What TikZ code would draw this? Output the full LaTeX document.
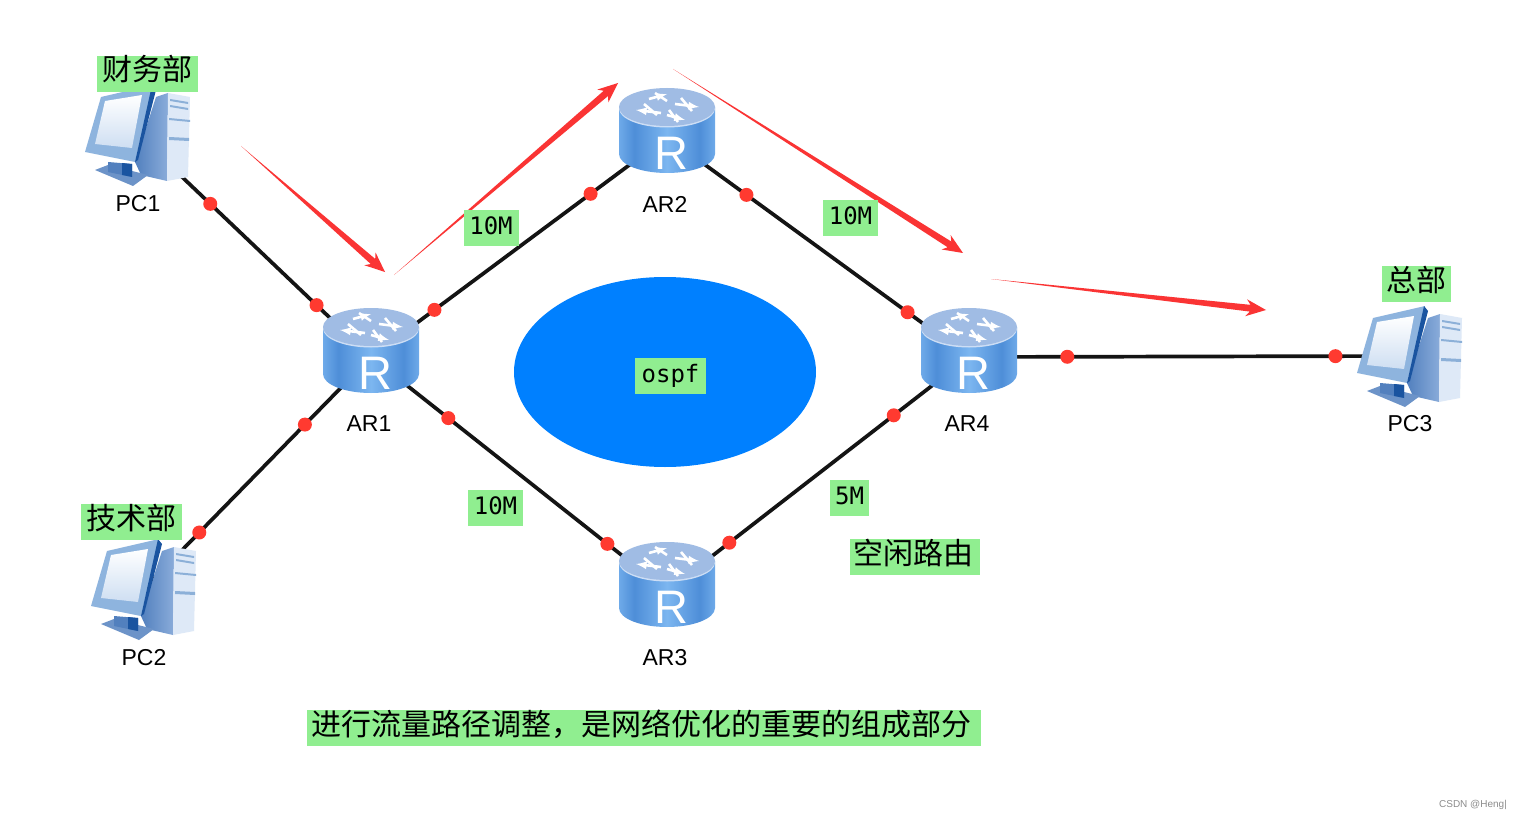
\documentclass[tikz,border=0pt]{standalone}
\usepackage{fontspec}
\usepackage{xcolor}
\usetikzlibrary{arrows, calc, positioning, shapes.geometric}
\setmainfont{Liberation Sans}
\setmonofont{DejaVu Sans Mono}
\newfontfamily\cjk{Noto Sans CJK SC}
\definecolor{labelgreen}{RGB}{144, 238, 144}
\definecolor{ospfblue}{RGB}{0, 128, 255}
\definecolor{arrowred}{RGB}{250, 52, 52}
\definecolor{dotred}{RGB}{255, 58, 48}
\definecolor{routertop}{RGB}{160, 188, 228}
\definecolor{routerrim}{RGB}{205, 222, 245}
\definecolor{routerlight}{RGB}{124, 182, 240}
\definecolor{routerdark}{RGB}{78, 142, 216}
\definecolor{pcframe}{RGB}{142, 180, 222}
\definecolor{pcdark}{RGB}{26, 84, 160}
\definecolor{pcside}{RGB}{82, 128, 190}
\definecolor{pcsidelight}{RGB}{138, 172, 218}
\definecolor{pcfront}{RGB}{222, 233, 247}
\definecolor{pcbay}{RGB}{140, 176, 216}

\pgfdeclarehorizontalshading{routerbody}{100bp}{
  color(0bp)=(routerlight!70!routerdark); color(25bp)=(routerlight!70!routerdark);
  color(33bp)=(routerdark); color(50bp)=(routerlight);
  color(67bp)=(routerdark); color(75bp)=(routerlight!70!routerdark);
  color(100bp)=(routerlight!70!routerdark)}

\tikzset{
  hostnode/.style={inner sep=0pt, minimum size=1pt},
  hostlabel/.style={font=\fontsize{23}{23}\selectfont, inner sep=0pt},
  link/.style={line width=3.7pt, draw=black!92},
  portdot/.style={circle, fill=dotred, inner sep=0pt, minimum size=14pt},
  tag/.style={fill=labelgreen, inner sep=0pt, text=black},
  cntag/.style={tag, font=\cjk\fontsize{30}{30}\selectfont, text height=20pt, text depth=6pt},
  numtag/.style={tag, font=\ttfamily\fontsize{24}{24}\selectfont, text height=16pt, text depth=3pt},
  whitestroke/.style={white, line width=2.6pt},
  router/.pic={
    % body
    \shade[shading=routerbody] (-48,-30) -- (-48,17)
      arc[start angle=180, end angle=0, x radius=48, y radius=19] -- (48,-30) -- cycle;
    % top
    \fill[routerrim] (0,-28.5) ellipse[x radius=48, y radius=19];
    \fill[routertop] (0,-30) ellipse[x radius=48, y radius=19];
    \begin{scope}[shift={(0,-30)}]
      \draw[whitestroke, -latex] (-6,6) -- (-31,3);
      \draw[whitestroke, -latex] (8,-3) -- (32,0);
      \draw[whitestroke, -latex] (-18,-8) -- (0,-13);
      \draw[whitestroke, -latex] (0,8) -- (18,13);
      \draw[whitestroke] (-12,-14) -- (0,-6);
      \draw[whitestroke] (14,-9) -- (25,4);
      \draw[whitestroke] (-23,-3) -- (-10,8);
      \draw[whitestroke] (2,3) -- (11,15);
    \end{scope}
    \node[white, font=\fontsize{47}{47}\selectfont, inner sep=0pt] at (4,16) {R};
  },
  desktop/.pic={
    % tower
    \path[left color=pcside, right color=pcsidelight]
      (18,-38) -- (30,-42) -- (29,46) -- (3,40) -- (-3,27) -- cycle;
    \fill[pcfront] (30,-42) -- (52,-38) -- (50,42) -- (29,46) -- cycle;
    \fill[pcbay] (32,-36) -- (50,-33) -- (50,-31) -- (32,-34) -- cycle;
    \fill[pcbay] (32,-30) -- (50,-27) -- (50,-25) -- (32,-28) -- cycle;
    \fill[pcbay] (31,-17) -- (52,-15) -- (52,-13) -- (31,-15) -- cycle;
    \fill[pcbay] (31,2) -- (51,3) -- (51,6) -- (31,5) -- cycle;
    % stand
    \fill[pcside!85!white] (-43,35) -- (-30,30) -- (10,40) -- (-5,51) -- cycle;
    \fill[pcside] (-30,27) -- (-6,29) -- (-6,42) -- (-30,37) -- cycle;
    \fill[pcdark] (-16,28) -- (-6,29) -- (-6,42) -- (-16,40) -- cycle;
    % monitor
    \fill[pcframe] (-37,-38) -- (15,-50) -- (-3,27) -- (-53,17) -- cycle;
    \fill[pcdark] (14,-50) -- (18,-45) -- (0,25) -- (-3,27) -- cycle;
    \path[top color=white, bottom color=pcfront!80!pcframe]
      (-33,-34) -- (4,-40) -- (-6,13) -- (-43,9) -- cycle;
  }
}

\newcommand{\taperarrow}[2]{
  \coordinate (neck) at ($(#2)!20pt!(#1)$);
  \coordinate (notch) at ($(#2)!16pt!(#1)$);
  \fill[arrowred] (#1) -- ($(notch)!3.4pt!90:(#2)$) -- ($(neck)!8.5pt!90:(#2)$)
    -- (#2) -- ($(neck)!8.5pt!-90:(#2)$) -- ($(notch)!3.4pt!-90:(#2)$) -- cycle;
}

\begin{document}
\begin{tikzpicture}[x=1pt, y=-1pt, node distance=67pt]
\useasboundingbox (0,0) rectangle (1521,821);
\fill[white] (0,0) rectangle (1521,821);

% Hosts
\node[hostnode] (pc1) at (138,135) {};
\node[hostnode] (pc2) at (144,589) {};
\node[hostnode] (pc3) at (1410,356) {};

% Routers
\node[hostnode] (ar1) at (371,357) {};
\node[hostnode] (ar2) at (667,137) {};
\node[hostnode] (ar3) at (667,591) {};
\node[hostnode] (ar4) at (969,357) {};

% Area in the middle
\node[ellipse, fill=ospfblue, inner sep=0pt, minimum width=302pt, minimum height=190pt] (area) at (665,372) {};

% Links with their ports
\draw[link] (pc1) -- node[portdot, pos=.309] (p1a) {} node[portdot, pos=.768] (p1b) {} (ar1);
\draw[link] (pc2) -- node[portdot, pos=.242] (p2a) {} node[portdot, pos=.71] (p2b) {} (ar1);
\draw[link] (ar1) -- node[portdot, pos=.213] (p3a) {} node[portdot, pos=.743] (p3b) {} (ar2);
\draw[link] (ar1) -- node[portdot, pos=.26] (p4a) {} node[portdot, pos=.80] (p4b) {} (ar3);
\draw[link] (ar2) -- node[portdot, pos=.262] (p5a) {} node[portdot, pos=.798] (p5b) {} (ar4);
\draw[link] (ar3) -- node[portdot, pos=.205] (p6a) {} node[portdot, pos=.752] (p6b) {} (ar4);
\draw[link] (ar4) -- node[portdot, pos=.222] (p7a) {} node[portdot, pos=.832] (p7b) {} (pc3);

% Icons over the link ends
\pic at (pc1) {desktop};
\pic at (pc2) {desktop};
\pic at (pc3) {desktop};
\pic at (ar1) {router};
\pic at (ar2) {router};
\pic at (ar3) {router};
\pic at (ar4) {router};

% Names under the icons
\node[hostlabel, node distance=69pt, below of=pc1] (pc1name) {PC1};
\node[hostlabel, node distance=69pt, below of=pc2] (pc2name) {PC2};
\node[hostlabel, node distance=68pt, below of=pc3] (pc3name) {PC3};
\node[hostlabel, below of=ar1, xshift=-2pt] (ar1name) {AR1};
\node[hostlabel, below of=ar2, xshift=-2pt] (ar2name) {AR2};
\node[hostlabel, below of=ar3, xshift=-2pt] (ar3name) {AR3};
\node[hostlabel, below of=ar4, xshift=-2pt] (ar4name) {AR4};

% Traffic path
\coordinate (t1s) at (241,146);
\coordinate (t1e) at (385,272);
\coordinate (t2s) at (394,275);
\coordinate (t2e) at (618,83);
\coordinate (t3s) at (673,69);
\coordinate (t3e) at (963,253);
\coordinate (t4s) at (991,279);
\coordinate (t4e) at (1266,310);
\taperarrow{t1s}{t1e}
\taperarrow{t2s}{t2e}
\taperarrow{t3s}{t3e}
\taperarrow{t4s}{t4e}

% Green tags
\node[cntag, minimum width=101pt, minimum height=36pt] (finance) at (147.5,74) {财务部};
\node[cntag, minimum width=101pt, minimum height=36pt] (tech) at (131.5,522) {技术部};
\node[cntag, minimum width=69pt, minimum height=36pt] (hq) at (1416.5,284) {总部};
\node[numtag, minimum width=55pt, minimum height=36pt] (bw12) at (491,228) {10M};
\node[numtag, minimum width=55pt, minimum height=36pt] (bw24) at (850.5,218) {10M};
\node[numtag, minimum width=55pt, minimum height=36pt] (bw13) at (495.5,508) {10M};
\node[numtag, minimum width=39pt, minimum height=36pt] (bw34) at (849.5,498) {5M};
\node[numtag, minimum width=71pt, minimum height=36pt] (ospf) at (670.5,376) {ospf};
\node[cntag, minimum width=130pt, minimum height=36pt] (idle) at (915,557) {空闲路由\kern4pt};
\node[cntag, minimum width=674pt, minimum height=36pt] (note) at (644,728)
  {进行流量路径调整，是网络优化的重要的组成部分\kern6pt};

\node[font=\fontsize{10}{10}\selectfont, text=black!45, inner sep=0pt] (mark) at (1473,805) {CSDN @Heng|};

\end{tikzpicture}
\end{document}
